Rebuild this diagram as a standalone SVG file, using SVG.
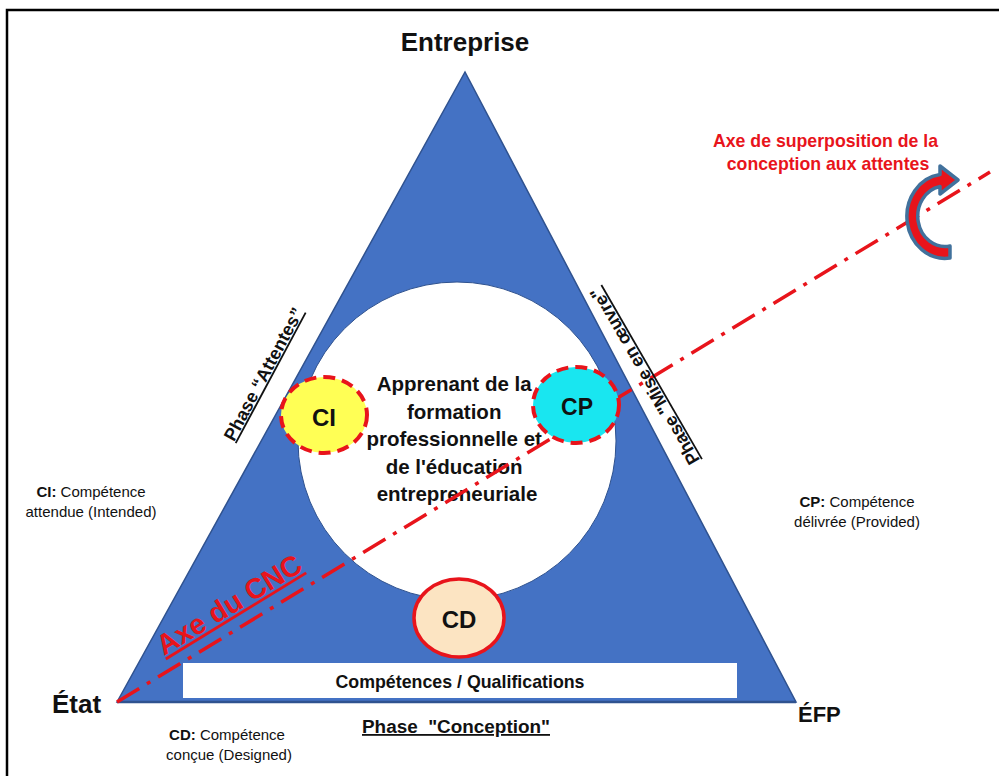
<svg xmlns="http://www.w3.org/2000/svg" width="999" height="776" viewBox="0 0 999 776">
<style>
  text { font-family: "Liberation Sans", Arial, sans-serif; fill: #111; }
  .b { font-weight: bold; }
  .red { fill: #E8141B; }
  .small { font-size: 15px; }
  .ul { text-decoration: underline; }
  .phase { font-size: 18px; font-weight: bold; text-decoration: underline; }
</style>
<rect x="0" y="0" width="999" height="776" fill="#ffffff"/>
<rect id="frame" x="7" y="10" width="1000" height="800" fill="none" stroke="#000" stroke-width="2.5"/>

<g id="triangle">
  <polygon points="117,702 465,72 796,702" fill="#4472C4" stroke="#2F528F" stroke-width="1.5"/>
  <line x1="117" y1="702" x2="796" y2="702" stroke="#2F528F" stroke-width="2.5"/>
</g>

<g id="learner">
  <circle cx="457" cy="441" r="159" fill="#ffffff" stroke="#2F528F" stroke-width="1"/>
  <text class="b" font-size="20.5" text-anchor="middle">
    <tspan x="457" y="391">Apprenant de la</tspan>
    <tspan x="457" y="419">formation</tspan>
    <tspan x="457" y="446">professionnelle et</tspan>
    <tspan x="457" y="474">de l'éducation</tspan>
    <tspan x="457" y="501">entrepreneuriale</tspan>
  </text>
</g>

<g id="qualifications">
  <rect x="183" y="663" width="554" height="35" fill="#ffffff"/>
  <text class="b" font-size="17.8" x="460" y="688" text-anchor="middle">Compétences / Qualifications</text>
</g>

<g id="connectors">
  <line x1="117" y1="702" x2="990" y2="172" stroke="#E8141B" stroke-width="3.5" stroke-dasharray="26 9 4 9"/>
  <path id="curved-arrow" d="M 950 258 A 38 42 0 0 1 940 174.5 L 940 166 L 958 180 L 940 194 L 940 186.5 A 27 30 0 0 0 950 246 Z" fill="#E8141B" stroke="#41719C" stroke-width="3.5" stroke-linejoin="round"/>
</g>

<g id="CI">
  <ellipse cx="324" cy="415" rx="43" ry="38" fill="#FFFF55" stroke="#E8141B" stroke-width="4" stroke-dasharray="12 7"/>
  <text class="b" font-size="24" x="324" y="426" text-anchor="middle">CI</text>
</g>

<g id="CP">
  <ellipse cx="576" cy="405" rx="43" ry="38" fill="#19E6F0" stroke="#E8141B" stroke-width="4" stroke-dasharray="12 7"/>
  <text class="b" font-size="23" x="577" y="415" text-anchor="middle">CP</text>
</g>

<g id="CD">
  <ellipse cx="459" cy="618" rx="45" ry="39" fill="#FCE4C2" stroke="#E8141B" stroke-width="3.5"/>
  <text class="b" font-size="24" x="459" y="628" text-anchor="middle">CD</text>
</g>

<g id="entreprise">
  <text class="b" font-size="26" x="465" y="51" text-anchor="middle">Entreprise</text>
</g>
<g id="etat">
  <text class="b" font-size="26" x="52" y="713">État</text>
</g>
<g id="efp">
  <text class="b" font-size="22" x="798" y="722">ÉFP</text>
</g>

<g id="phase-attentes">
  <text class="phase" text-anchor="middle" transform="translate(269,377) rotate(-61.8)">Phase “Attentes”</text>
</g>
<g id="phase-mise">
  <text class="phase" text-anchor="middle" transform="translate(650,373) rotate(-120)">Phase "Mise en œuvre"</text>
</g>
<g id="phase-conception">
  <text class="phase" x="362" y="733" textLength="188" lengthAdjust="spacingAndGlyphs" xml:space="preserve">Phase  "Conception"</text>
</g>

<g id="axe-cnc">
  <text class="b red ul" font-size="28.5" transform="translate(164,656) rotate(-31.5)">Axe du CNC</text>
</g>

<g id="axe-superposition">
  <text class="b red" font-size="17.7" text-anchor="middle">
    <tspan x="828" y="147">Axe de superposition de la</tspan>
    <tspan x="828" y="170">conception aux attentes</tspan>
  </text>
</g>

<g id="legend-ci">
  <text class="small" text-anchor="middle"><tspan x="91" y="497"><tspan class="b">CI:</tspan> Compétence</tspan><tspan x="91" y="517">attendue (Intended)</tspan></text>
</g>
<g id="legend-cp">
  <text class="small" text-anchor="middle"><tspan x="857" y="507"><tspan class="b">CP:</tspan> Compétence</tspan><tspan x="857" y="527">délivrée (Provided)</tspan></text>
</g>
<g id="legend-cd">
  <text class="small" text-anchor="middle"><tspan x="227" y="740"><tspan class="b">CD:</tspan> Compétence</tspan><tspan x="229" y="760">conçue (Designed)</tspan></text>
</g>
</svg>
